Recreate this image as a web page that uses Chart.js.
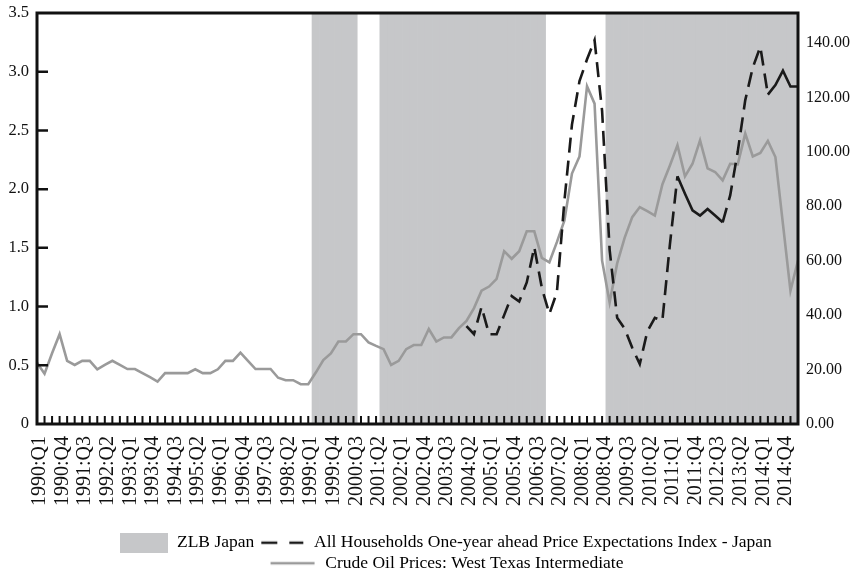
<!DOCTYPE html>
<html>
<head>
<meta charset="utf-8">
<script src="https://cdn.jsdelivr.net/npm/chart.js@4.4.0/dist/chart.umd.min.js"></script>
<style>
  html, body { margin: 0; padding: 0; background: #fff; }
  #wrap { width: 861px; height: 569px; }
</style>
</head>
<body>
<div id="wrap"><canvas id="chart" width="861" height="569"></canvas></div>
<script>
// quarterly categories 1990:Q1 .. 2015:Q2
const quarters = [];
for (let y = 1990; y <= 2015; y++) {
  for (let q = 1; q <= 4; q++) quarters.push(y + ':Q' + q);
}
quarters.length = 102;

// ZLB periods (first and last quarter shaded)
const zlbPeriods = [['1999:Q2', '2000:Q3'], ['2001:Q3', '2006:Q4'], ['2009:Q1', '2015:Q2']];
const zlbTop = 3.5;

// WTI crude oil, quarterly (right axis)
const oilPrices = [
  22.5, 18.5, 26, 33, 23.2, 21.7, 23.2, 23.2, 20.1, 21.7, 23.2, 21.7,
  20.2, 20.2, 18.7, 17.2, 15.6, 18.7, 18.7, 18.7, 18.7, 20.1, 18.7, 18.7,
  20.1, 23.2, 23.2, 26.2, 23.2, 20.2, 20.2, 20.2, 17, 16.1, 16.1, 14.6,
  14.6, 18.9, 23.5, 25.9, 30.3, 30.3, 33, 33, 30, 28.7, 27.5, 21.7,
  23.2, 27.5, 29, 29, 34.9, 30.3, 31.8, 31.8, 35.2, 37.9, 42.6, 49,
  50.5, 53.3, 63.5, 60.7, 63.5, 70.8, 70.8, 61, 59.4, 66.8, 74.8, 92,
  98.3, 124.1, 117.7, 60, 44.7, 59, 68.5, 76, 79.7, 78.2, 76.6, 88,
  95, 102.4, 91, 95.6, 104.2, 93.9, 92.6, 89.5, 95.6, 95.4, 106.7, 98.3,
  99.6, 104, 98.1, 73.5, 49, 60
];

// household one-year ahead price expectations index (right axis), from 2004:Q2
const expectations = [
  null, null, null, null, null, null, null, null, null, null, null, null,
  null, null, null, null, null, null, null, null, null, null, null, null,
  null, null, null, null, null, null, null, null, null, null, null, null,
  null, null, null, null, null, null, null, null, null, null, null, null,
  null, null, null, null, null, null, null, null, null, 36, 33, 43,
  33, 33, 40, 47, 45, 52, 65, 50, 40.4, 48.4, 82, 110,
  126, 134, 141, 115, 64, 39, 35, 28, 22, 34, 39, 38,
  66, 91, 84.6, 78.5, 76.6, 79, 76.6, 74.1, 84, 100, 119, 131,
  138.6, 121, 124.5, 129.8, 124, 124
];

const leftTicks = [0, 0.5, 1, 1.5, 2, 2.5, 3, 3.5];
const rightTicks = [0, 20, 40, 60, 80, 100, 120, 140];

// stretches of the expectations line drawn solid [from, to] index
const solidRuns = [[85, 91], [97, 101]];

const zlbData = quarters.map((q, i) => {
  const on = zlbPeriods.some(p => i >= quarters.indexOf(p[0]) && i <= quarters.indexOf(p[1]));
  return on ? zlbTop : null;
});

const SHADE = '#c6c7c9';
const OIL = '#9a9a9a';
const INK = '#1a1a1a';
const FONT = "'Liberation Serif', 'DejaVu Serif', serif";
const DASH = [15, 8];

function legendSwatch(kind) {
  const c = document.createElement('canvas');
  c.width = 48; c.height = 20;
  const g = c.getContext('2d');
  if (kind === 'box') {
    g.fillStyle = SHADE;
    g.fillRect(0, 0, 48, 20);
  } else if (kind === 'dash') {
    g.strokeStyle = INK; g.lineWidth = 2.5;
    g.beginPath(); g.moveTo(4, 10); g.lineTo(20, 10); g.moveTo(32, 10); g.lineTo(46, 10); g.stroke();
  } else {
    g.strokeStyle = OIL; g.lineWidth = 2.5;
    g.beginPath(); g.moveTo(2, 10); g.lineTo(46, 10); g.stroke();
  }
  return c;
}
const swatches = [legendSwatch('box'), legendSwatch('dash'), legendSwatch('line')];

const frameTicks = {
  id: 'frameTicks',
  afterLayout(chart) {
    // nudge the legend rows to where the reference has them
    const lg = chart.legend;
    lg.left += 31;
    lg.top += 13;
    lg.bottom += 13;
  },
  afterDatasetsDraw(chart) {
    const { ctx, chartArea: a, scales } = chart;
    ctx.save();
    ctx.strokeStyle = '#111';
    ctx.lineWidth = 2;
    ctx.beginPath();
    quarters.forEach((q, i) => {
      const px = scales.x.getPixelForValue(i);
      ctx.moveTo(px, a.bottom);
      ctx.lineTo(px, a.bottom - 8);
    });
    ctx.stroke();
    ctx.lineWidth = 2.5;
    ctx.beginPath();
    leftTicks.slice(1, -1).forEach(v => {
      const py = scales.y.getPixelForValue(v);
      ctx.moveTo(a.left, py);
      ctx.lineTo(a.left + 11, py);
    });
    ctx.stroke();
    ctx.lineWidth = 3;
    ctx.strokeRect(a.left, a.top, a.right - a.left, a.bottom - a.top);
    ctx.restore();
  }
};

new Chart(document.getElementById('chart'), {
  data: {
    labels: quarters,
    datasets: [
      {
        type: 'line',
        label: 'All Households One-year ahead Price Expectations Index - Japan',
        data: expectations,
        yAxisID: 'y1',
        borderColor: INK,
        borderWidth: 2.6,
        borderDash: DASH,
        pointRadius: 0,
        tension: 0,
        order: 1,
        segment: {
          borderDash: s => solidRuns.some(r => s.p0DataIndex >= r[0] && s.p0DataIndex < r[1]) ? [] : DASH
        }
      },
      {
        type: 'line',
        label: 'Crude Oil Prices: West Texas Intermediate',
        data: oilPrices,
        yAxisID: 'y1',
        borderColor: OIL,
        borderWidth: 2.6,
        pointRadius: 0,
        tension: 0,
        order: 2
      },
      {
        type: 'bar',
        label: 'ZLB Japan',
        data: zlbData,
        yAxisID: 'y',
        backgroundColor: SHADE,
        barPercentage: 1,
        categoryPercentage: 1,
        order: 3
      }
    ]
  },
  options: {
    responsive: false,
    animation: false,
    maintainAspectRatio: false,
    layout: { padding: { top: 13, left: 0, right: 0, bottom: 0 } },
    plugins: {
      tooltip: { enabled: false },
      legend: {
        position: 'bottom',
        labels: {
          usePointStyle: true,
          pointStyleWidth: 48,
          padding: 3,
          color: '#111',
          font: { family: FONT, size: 17.5 },
          generateLabels: () => [
            { text: 'ZLB Japan', pointStyle: swatches[0], datasetIndex: 2, lineWidth: 0, fillStyle: SHADE, strokeStyle: SHADE },
            { text: 'All Households One-year ahead Price Expectations Index - Japan', pointStyle: swatches[1], datasetIndex: 0, lineWidth: 0, fillStyle: INK, strokeStyle: INK },
            { text: 'Crude Oil Prices: West Texas Intermediate', pointStyle: swatches[2], datasetIndex: 1, lineWidth: 0, fillStyle: OIL, strokeStyle: OIL }
          ]
        }
      }
    },
    scales: {
      x: {
        type: 'category',
        offset: false,
        grid: { display: false },
        border: { display: false },
        afterFit: s => { s.height = 94; },
        ticks: {
          autoSkip: false,
          minRotation: 90,
          maxRotation: 90,
          padding: 4,
          labelOffset: 3,
          color: '#111',
          font: { family: FONT, size: 20 },
          callback: (v, i) => (i % 3 === 0 ? quarters[i] : '')
        }
      },
      y: {
        position: 'left',
        min: 0,
        max: 3.5,
        grid: { display: false },
        border: { display: false },
        afterFit: s => { s.width = 37; },
        afterBuildTicks: s => { s.ticks = leftTicks.map(v => ({ value: v })); },
        ticks: {
          padding: 0,
          color: '#111',
          font: { family: FONT, size: 16.5 },
          callback: v => (v === 0 ? '0' : v.toFixed(1))
        }
      },
      y1: {
        position: 'right',
        min: 0,
        max: 151,
        grid: { display: false },
        border: { display: false },
        afterFit: s => { s.width = 63; },
        afterBuildTicks: s => { s.ticks = rightTicks.map(v => ({ value: v })); },
        ticks: {
          padding: 0,
          color: '#111',
          font: { family: FONT, size: 16 },
          callback: v => v.toFixed(2)
        }
      }
    }
  },
  plugins: [frameTicks]
});
</script>
</body>
</html>
